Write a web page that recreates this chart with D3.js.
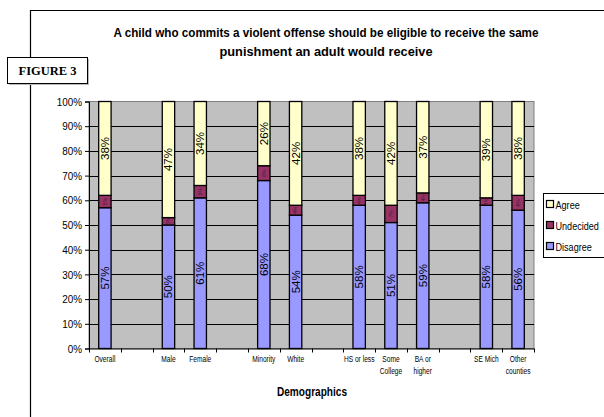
<!DOCTYPE html>
<html>
<head>
<meta charset="utf-8">
<script src="https://cdn.jsdelivr.net/npm/d3@7/dist/d3.min.js"></script>
<style>
  html, body { margin: 0; padding: 0; background: #fff; }
  svg { display: block; }
  .sans { font-family: "Liberation Sans", Arial, sans-serif; }
</style>
</head>
<body>
<svg id="chart" width="604" height="417"></svg>
<script>
// Survey responses by demographic group (percent of respondents)
const categories = ["Overall", "", "Male", "Female", "", "Minority", "White", "", "HS or less", "Some College", "BA or higher", "", "SE Mich", "Other counties"];
const categoryLines = [["Overall"], [], ["Male"], ["Female"], [], ["Minority"], ["White"], [], ["HS or less"], ["Some", "College"], ["BA or", "higher"], [], ["SE Mich"], ["Other", "counties"]];
const disagree  = [57, null, 50, 61, null, 68, 54, null, 58, 51, 59, null, 58, 56];
const undecided = [5,  null, 3,  5,  null, 6,  4,  null, 4,  7,  4,  null, 3,  6];
const agree     = [38, null, 47, 34, null, 26, 42, null, 38, 42, 37, null, 39, 38];
const seriesNames = ["Disagree", "Undecided", "Agree"];
const legendOrder = ["Agree", "Undecided", "Disagree"];
const yTicks = [0, 10, 20, 30, 40, 50, 60, 70, 80, 90, 100];
const titleLines = ["A child who commits a violent offense should be eligible to receive the same", "punishment an adult would receive"];

const colors = { Disagree: "#9999FF", Undecided: "#993366", Agree: "#FFFFCC" };

// Squeeze text horizontally to mimic a condensed face
function condense(sel, f) {
  sel.each(function () {
    const len = this.getComputedTextLength();
    this.setAttribute("textLength", (len * f).toFixed(2));
    this.setAttribute("lengthAdjust", "spacingAndGlyphs");
  });
}

const svg = d3.select("#chart");
const plot = { left: 89, right: 534, top: 101.5, bottom: 348.5 };

// Outer frame lines
svg.append("line").attr("x1", 30.5).attr("x2", 30.5).attr("y1", 10).attr("y2", 417).attr("stroke", "#000").attr("stroke-width", 1.2);
svg.append("line").attr("x1", 30).attr("x2", 604).attr("y1", 10.5).attr("y2", 10.5).attr("stroke", "#000").attr("stroke-width", 1.2);

// Figure label box
svg.append("rect").attr("x", 9).attr("y", 59).attr("width", 80).attr("height", 26).attr("fill", "#bbb");
svg.append("rect").attr("x", 7.5).attr("y", 57.5).attr("width", 80).attr("height", 26).attr("fill", "#fff").attr("stroke", "#000").attr("stroke-width", 1);
svg.append("text").attr("x", 47.5).attr("y", 75).attr("text-anchor", "middle")
  .style("font-family", "'Liberation Serif', 'Times New Roman', serif").style("font-weight", "bold").style("font-size", "12.5px")
  .text("FIGURE 3");

// Title
const titleWidths = [425, 213];
svg.append("g").selectAll("text").data(titleLines).join("text")
  .attr("class", "sans")
  .attr("x", 326).attr("y", (d, i) => 37 + i * 19)
  .attr("text-anchor", "middle")
  .style("font-weight", "bold").style("font-size", "13px")
  .attr("textLength", (d, i) => titleWidths[i]).attr("lengthAdjust", "spacingAndGlyphs")
  .text(d => d);

const x = d3.scaleBand().domain(d3.range(categories.length)).range([plot.left, plot.right]).padding(0);
const y = d3.scaleLinear().domain([0, 100]).range([plot.bottom, plot.top]);
const barW = x.bandwidth() * 0.39;

// Plot background and gridlines
svg.append("rect").attr("x", plot.left).attr("y", plot.top).attr("width", plot.right - plot.left).attr("height", plot.bottom - plot.top)
  .attr("fill", "#C0C0C0").attr("stroke", "#808080").attr("stroke-width", 1);
svg.append("g").selectAll("line").data(yTicks.slice(1, -1)).join("line")
  .attr("x1", plot.left).attr("x2", plot.right)
  .attr("y1", d => Math.round(y(d)) + 0.5).attr("y2", d => Math.round(y(d)) + 0.5)
  .attr("stroke", "#000").attr("stroke-width", 1);

// Stacked bars
const rows = categories.map((c, i) => ({ i, Disagree: disagree[i], Undecided: undecided[i], Agree: agree[i] }))
  .filter(r => r.Disagree != null);
const stack = d3.stack().keys(seriesNames)(rows);

const layers = svg.append("g").selectAll("g").data(stack).join("g").attr("fill", d => colors[d.key]);
layers.selectAll("rect").data(d => d).join("rect")
  .attr("x", d => x(d.data.i) + (x.bandwidth() - barW) / 2)
  .attr("width", barW)
  .attr("y", d => y(d[1]))
  .attr("height", d => y(d[0]) - y(d[1]))
  .attr("stroke", "#000").attr("stroke-width", 1.3);

// Value labels, rotated inside each segment
stack.forEach(layer => {
  const small = layer.key === "Undecided";
  svg.append("g").selectAll("text").data(layer).join("text")
    .attr("class", "sans")
    .attr("transform", d => `translate(${x(d.data.i) + x.bandwidth() / 2},${y((d[0] + d[1]) / 2)}) rotate(-90)`)
    .attr("text-anchor", "middle").attr("dy", "0.35em")
    .style("font-size", small ? "5px" : "11.5px")
    .attr("fill", small ? "#3a1a2a" : "#000")
    .text(d => (d[1] - d[0]) + "%");
});

// Y axis
const yAxis = svg.append("g").attr("transform", `translate(${plot.left},0)`)
  .call(d3.axisLeft(y).tickValues(yTicks).tickSize(4).tickFormat(d => d + "%"));
yAxis.select(".domain").attr("stroke", "#000");
yAxis.selectAll(".tick line").attr("stroke", "#000");
yAxis.selectAll("text").attr("class", "sans").style("font-size", "11.5px").attr("x", -7).attr("fill", "#000");
yAxis.attr("font-family", null);
condense(yAxis.selectAll("text"), 0.86);

// X axis: tick marks at category boundaries
const xAxisG = svg.append("g");
xAxisG.append("line").attr("x1", plot.left).attr("x2", plot.right).attr("y1", plot.bottom + 0.5).attr("y2", plot.bottom + 0.5).attr("stroke", "#000");
xAxisG.selectAll("line.tk").data(d3.range(categories.length + 1)).join("line").attr("class", "tk")
  .attr("x1", i => Math.round(plot.left + i * x.step()) + 0.5).attr("x2", i => Math.round(plot.left + i * x.step()) + 0.5)
  .attr("y1", plot.bottom).attr("y2", plot.bottom + 4).attr("stroke", "#000");
const xl = xAxisG.selectAll("text").data(categoryLines.map((l, i) => ({ l, i })).filter(d => d.l.length)).join("text")
  .attr("class", "sans")
  .attr("x", d => x(d.i) + x.bandwidth() / 2).attr("y", 362)
  .attr("text-anchor", "middle").style("font-size", "8.5px");
const tsp = xl.selectAll("tspan").data(d => d.l.map(t => ({ t, xx: x(d.i) + x.bandwidth() / 2 }))).join("tspan")
  .attr("x", d => d.xx).attr("dy", (d, j) => j ? "1.45em" : 0).text(d => d.t);
condense(tsp, 0.78);

// Axis title
const at = svg.append("text").attr("class", "sans").attr("x", 312).attr("y", 396).attr("text-anchor", "middle")
  .style("font-weight", "bold").style("font-size", "12px").text("Demographics");
condense(at, 0.84);

// Legend
const lg = svg.append("g");
lg.append("rect").attr("x", 543.5).attr("y", 193.5).attr("width", 70).attr("height", 64).attr("fill", "#fff").attr("stroke", "#000").attr("stroke-width", 1);
const li = lg.selectAll("g").data(legendOrder).join("g").attr("transform", (d, i) => `translate(546.5,${205 + i * 21})`);
li.append("rect").attr("x", 0).attr("y", -4.5).attr("width", 7).attr("height", 7).attr("fill", d => colors[d]).attr("stroke", "#000").attr("stroke-width", 1.2);
li.append("g").attr("transform", "translate(9,0) scale(0.79,1)")
  .append("text").attr("class", "sans").attr("x", 0).attr("y", 0).attr("dy", "0.35em").style("font-size", "11.5px").text(d => d);
</script>
</body>
</html>
